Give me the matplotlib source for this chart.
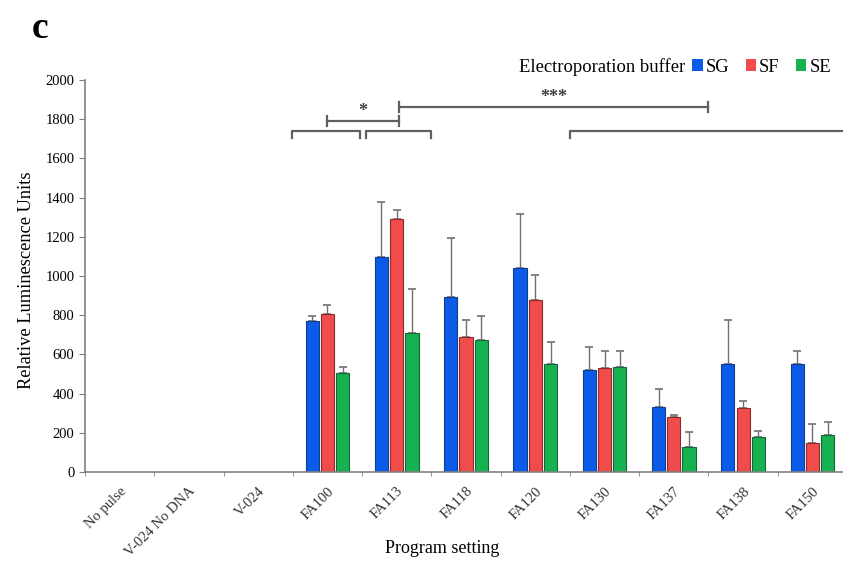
import numpy as np
import matplotlib
matplotlib.use("Agg")
import matplotlib.pyplot as plt
from matplotlib.patches import Patch

plt.rcParams['font.family'] = ['Liberation Serif', 'DejaVu Serif']

# data
programs = ['No pulse', 'V-024 No DNA', 'V-024', 'FA100', 'FA113', 'FA118',
            'FA120', 'FA130', 'FA137', 'FA138', 'FA150']
buffers = ['SG', 'SF', 'SE']
sg_mean = [0, 0, 0, 769, 1099, 895, 1039, 520, 333, 549, 549]
sf_mean = [0, 0, 0, 804, 1291, 687, 878, 531, 279, 325, 146]
se_mean = [0, 0, 0, 505, 707, 673, 551, 534, 129, 177, 189]
sg_err = [0, 0, 0, 27, 279, 301, 276, 119, 90, 225, 67]
sf_err = [0, 0, 0, 46, 44, 89, 129, 88, 12, 39, 99]
se_err = [0, 0, 0, 29, 225, 123, 114, 82, 73, 30, 68]

colors = ['#0b5be8', '#f24b4b', '#15b24f']
edges = ['#123c8c', '#8c2a2a', '#17663a']
axis_gray = '#808080'

fig = plt.figure(figsize=(8.43, 5.62), dpi=100)
ax = fig.add_axes([85 / 843, 1 - 472 / 562, 762 / 843, 392 / 562])

x = np.arange(len(programs))
width = 0.19
offsets = [-0.22, 0.0, 0.22]
means = [sg_mean, sf_mean, se_mean]
errs = [sg_err, sf_err, se_err]
for k in range(3):
    m = np.array(means[k])
    e = np.array(errs[k])
    show = m > 0
    ax.bar(x[show] + offsets[k], m[show], width, color=colors[k],
           edgecolor=edges[k], linewidth=0.8, zorder=2)
    ax.errorbar(x[show] + offsets[k], m[show],
                yerr=[np.zeros(show.sum()), e[show]], fmt='none',
                ecolor='#707070', elinewidth=1.0, capsize=3, capthick=1.2,
                zorder=1)

ax.set_xlim(-0.5, len(programs) - 0.5)
ax.set_ylim(0, 2000)
ax.set_yticks(np.arange(0, 2001, 200))
ax.set_xticks(x)
ax.set_xticklabels(programs, rotation=45, ha='right', rotation_mode='anchor',
                   fontsize=10.5, color='#333333')
ax.set_xticks(np.arange(-0.5, len(programs), 1), minor=True)
ax.tick_params(axis='x', which='major', length=0, pad=9)
ax.tick_params(axis='x', which='minor', length=3, color=axis_gray)
ax.tick_params(axis='y', length=4, color=axis_gray, labelsize=10.5)
for s in ['top', 'right']:
    ax.spines[s].set_visible(False)
for s in ['left', 'bottom']:
    ax.spines[s].set_color(axis_gray)
    ax.spines[s].set_linewidth(1.2)

ax.set_ylabel('Relative Luminescence Units', fontsize=13.2)
ax.set_xlabel('Program setting', fontsize=13)
ax.xaxis.set_label_coords(0.469, -0.173)
ax.yaxis.set_label_coords(-0.066, 0.49)

# significance brackets
bc = '#606060'
def group_bracket(x0, x1, y, drop=35):
    ax.plot([x0, x0, x1, x1], [y - drop, y, y, y - drop], color=bc,
            lw=1.6, clip_on=False)

def sig_bar(x0, x1, y, label, h=25):
    ax.plot([x0, x1], [y, y], color=bc, lw=1.6, clip_on=False)
    ax.plot([x0, x0], [y - h, y + h], color=bc, lw=1.6, clip_on=False)
    ax.plot([x1, x1], [y - h, y + h], color=bc, lw=1.6, clip_on=False)
    ax.text((x0 + x1) / 2, y + 5, label, ha='center', va='bottom',
            fontsize=13, color='#404040', fontweight='bold')

group_bracket(2.49, 3.47, 1740)
group_bracket(3.55, 4.49, 1740)
group_bracket(6.5, 11.0, 1740)
sig_bar(3.0, 4.03, 1791, '*')
sig_bar(4.03, 8.5, 1862, '***')

# legend
fig.text(685 / 843, 1 - 67 / 562, 'Electroporation buffer', ha='right',
         va='center', fontsize=13.4)
handles = [Patch(facecolor=c, edgecolor='none') for c in colors]
fig.legend(handles, buffers, loc='center left',
           bbox_to_anchor=(685 / 843, 1 - 67 / 562), ncol=3, frameon=False,
           fontsize=13.4, handlelength=0.55, handleheight=0.55,
           handletextpad=0.15, columnspacing=0.9, borderaxespad=0)

fig.text(32 / 843, 1 - 28 / 562, 'c', fontsize=27, fontweight='bold',
         ha='left', va='center')

fig.savefig('out.png', dpi=100)
